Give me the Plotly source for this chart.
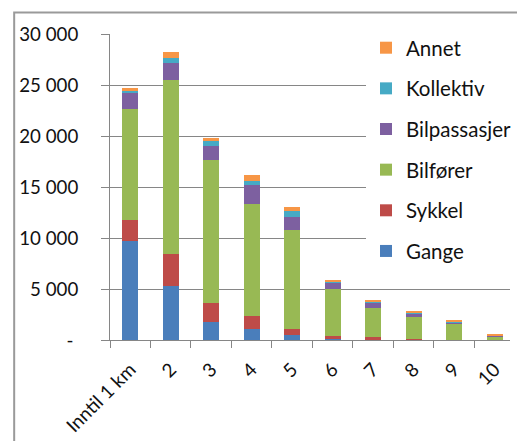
import plotly.graph_objects as go

categories = ["Inntil 1 km", "2", "3", "4", "5", "6", "7", "8", "9", "10"]
gange = [9670, 5310, 1800, 1050, 520, 50, 30, 0, 0, 0]
sykkel = [2060, 3150, 1810, 1280, 560, 370, 300, 50, 30, 10]
bilforer = [10950, 17010, 13990, 11040, 9710, 4560, 2850, 2240, 1540, 370]
bilpassasjer = [1580, 1730, 1380, 1800, 1270, 650, 460, 300, 100, 20]
kollektiv = [130, 460, 520, 460, 620, 100, 100, 100, 130, 80]
annet = [290, 530, 330, 500, 370, 140, 90, 60, 100, 20]

series = [
    ("Gange", gange, "#4A7EBB"),
    ("Sykkel", sykkel, "#BE4B48"),
    ("Bilfører", bilforer, "#98B954"),
    ("Bilpassasjer", bilpassasjer, "#7D60A0"),
    ("Kollektiv", kollektiv, "#46AAC5"),
    ("Annet", annet, "#F79646"),
]

ytickvals = [0, 5000, 10000, 15000, 20000, 25000, 30000]
yticktext = ["-\u00a0", "5 000", "10 000", "15 000", "20 000", "25 000", "30 000"]

fig = go.Figure()
n = len(series)
for i, (name, vals, col) in enumerate(series):
    fig.add_trace(go.Bar(
        x=categories, y=vals, name=name,
        marker=dict(color=col, line=dict(width=0)),
        legendgroup=f"g{i}",
        legendrank=n - i,
    ))

font = "Lato, 'Open Sans', sans-serif"
txt = "#111111"
fig.update_layout(
    barmode="stack",
    bargap=0.6,
    width=517, height=441,
    margin=dict(l=110, r=0, t=34, b=101),
    paper_bgcolor="white", plot_bgcolor="white",
    font=dict(family=font, size=19, color=txt),
    legend=dict(
        x=0.64, y=1.02, xanchor="left", yanchor="top",
        bgcolor="white",
        traceorder="grouped",
        tracegroupgap=11,
        font=dict(size=20.5, family=font, color=txt),
        itemwidth=30,
        maxheight=400,
    ),
    xaxis=dict(
        range=[-0.5, 9.38],
        showline=True, linecolor="#868686", linewidth=1,
        ticks="outside", tickson="boundaries", ticklen=7, tickcolor="#868686",
        tickangle=-45,
        showgrid=False,
        ticklabelstandoff=10,
        tickfont=dict(size=19, family=font, color=txt),
    ),
    yaxis=dict(
        range=[0, 30000],
        tickvals=ytickvals, ticktext=yticktext,
        showline=True, linecolor="#868686", linewidth=1,
        ticks="outside", ticklen=8, tickcolor="#868686",
        showgrid=True, gridcolor="#868686", gridwidth=1,
        zeroline=False,
        ticklabelstandoff=19,
        tickfont=dict(size=18.7, family=font, color=txt),
    ),
    shapes=[dict(
        type="rect", xref="paper", yref="paper",
        x0=(12.5 - 110) / 407, x1=1.1,
        y0=-0.5, y1=(340 - 12.5) / 306,
        line=dict(color="#9a9a9a", width=2),
        fillcolor="rgba(0,0,0,0)", layer="below",
    )],
)

fig.write_html("out.html")
